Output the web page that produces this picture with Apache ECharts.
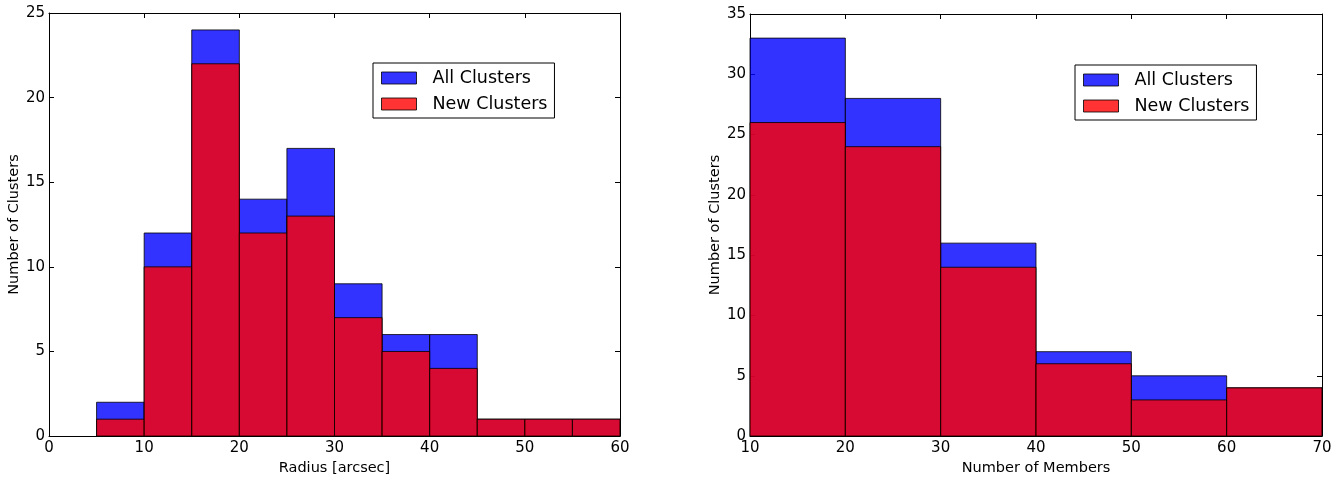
<!DOCTYPE html>
<html>
<head>
<meta charset="utf-8">
<script src="https://cdn.jsdelivr.net/npm/echarts@6/dist/echarts.min.js"></script>
<style>
html,body{margin:0;padding:0;background:#fff;}
#chart{width:1342px;height:481px;}
</style>
</head>
<body>
<div id="chart"></div>
<script>
// ---- data ----
const radiusEdges = [5, 10, 15, 20, 25, 30, 35, 40, 45, 50, 55, 60];
const radiusAll = [2, 12, 24, 14, 17, 9, 6, 6, 1, 1, 1];
const radiusNew = [1, 10, 22, 12, 13, 7, 5, 4, 1, 1, 1];

const memberEdges = [10, 20, 30, 40, 50, 60, 70];
const memberAll = [33, 28, 16, 7, 5, 4];
const memberNew = [26, 24, 14, 6, 3, 4];

const radiusTicks = [0, 10, 20, 30, 40, 50, 60];
const memberTicks = [10, 20, 30, 40, 50, 60, 70];

const seriesNames = ['All Clusters', 'New Clusters'];
const axisTitles = ['Radius [arcsec]', 'Number of Members', 'Number of Clusters'];

// ---- build ----
function toBins(edges, counts) {
  return counts.map((c, i) => [edges[i], edges[i + 1], c]);
}
const FONT = 'DejaVu Sans';
const BLUE = 'rgba(0,0,255,0.8)';
const RED = 'rgba(255,0,0,0.8)';
const EDGE = 'rgba(0,0,0,0.8)';

function renderBar(params, api) {
  const p0 = api.coord([api.value(0), 0]);
  const p1 = api.coord([api.value(1), api.value(2)]);
  return {
    type: 'rect',
    shape: { x: p0[0], y: p1[1], width: p1[0] - p0[0], height: p0[1] - p1[1] },
    style: api.style({ lineWidth: 1 })
  };
}

function histSeries(name, color, data, idx, z) {
  return {
    type: 'custom',
    name: name,
    xAxisIndex: idx * 2,
    yAxisIndex: idx * 2,
    renderItem: renderBar,
    encode: { x: [0, 1], y: 2 },
    itemStyle: { color: color, borderColor: EDGE, borderWidth: 1 },
    data: data,
    z: z,
    silent: true
  };
}

function xAxes(gi, min, max, ticks, title) {
  const interval = ticks[1] - ticks[0];
  return [
    {
      type: 'value', gridIndex: gi, min: min, max: max, interval: interval,
      position: 'bottom',
      name: title, nameLocation: 'middle', nameGap: 21,
      nameTextStyle: { fontFamily: FONT, fontSize: 14.5, color: '#000' },
      axisLine: { show: true, onZero: false, lineStyle: { color: '#000', width: 1 } },
      axisTick: { show: true, inside: true, length: 5, lineStyle: { color: '#000' } },
      axisLabel: { show: true, margin: 5, fontFamily: FONT, fontSize: 15, color: '#000' },
      splitLine: { show: false }
    },
    {
      type: 'value', gridIndex: gi, min: min, max: max, interval: interval,
      position: 'top',
      axisLine: { show: true, onZero: false, lineStyle: { color: '#000', width: 1 } },
      axisTick: { show: true, inside: true, length: 5, lineStyle: { color: '#000' } },
      axisLabel: { show: false },
      splitLine: { show: false }
    }
  ];
}
function yAxes(gi, max, title) {
  return [
    {
      type: 'value', gridIndex: gi, min: 0, max: max, interval: 5,
      position: 'left',
      name: title, nameLocation: 'middle', nameGap: 27,
      nameTextStyle: { fontFamily: FONT, fontSize: 14.5, color: '#000' },
      axisLine: { show: true, onZero: false, lineStyle: { color: '#000', width: 1 } },
      axisTick: { show: true, inside: true, length: 5, lineStyle: { color: '#000' } },
      axisLabel: { show: true, margin: 4, fontFamily: FONT, fontSize: 15, color: '#000' },
      splitLine: { show: false }
    },
    {
      type: 'value', gridIndex: gi, min: 0, max: max, interval: 5,
      position: 'right',
      axisLine: { show: true, onZero: false, lineStyle: { color: '#000', width: 1 } },
      axisTick: { show: true, inside: true, length: 5, lineStyle: { color: '#000' } },
      axisLabel: { show: false },
      splitLine: { show: false }
    }
  ];
}

function legend(left, top) {
  return {
    orient: 'vertical', left: left, top: top,
    data: seriesNames,
    selectedMode: false,
    icon: 'rect',
    itemWidth: 35, itemHeight: 12, itemGap: 6,
    padding: [5, 7, 4, 8],
    borderColor: '#000', borderWidth: 1,
    backgroundColor: '#fff',
    itemStyle: { borderColor: EDGE, borderWidth: 1 },
    textStyle: { fontFamily: FONT, fontSize: 17.5, lineHeight: 20, color: '#000', padding: [0, 0, 0, 11] }
  };
}

const chart = echarts.init(document.getElementById('chart'), null, { renderer: 'canvas' });
chart.setOption({
  animation: false,
  backgroundColor: '#fff',
  grid: [
    { left: 49, top: 13, width: 571, height: 428 },
    { left: 750, top: 14, width: 572, height: 428 }
  ],
  xAxis: [].concat(
    xAxes(0, 0, 60, radiusTicks, axisTitles[0]),
    xAxes(1, 10, 70, memberTicks, axisTitles[1])
  ),
  yAxis: [].concat(
    yAxes(0, 25, axisTitles[2]),
    yAxes(1, 35, axisTitles[2])
  ),
  legend: [legend(373, 63), legend(1075, 65)],
  series: [
    histSeries(seriesNames[0], BLUE, toBins(radiusEdges, radiusAll), 0, 2),
    histSeries(seriesNames[1], RED, toBins(radiusEdges, radiusNew), 0, 3),
    histSeries(seriesNames[0], BLUE, toBins(memberEdges, memberAll), 1, 2),
    histSeries(seriesNames[1], RED, toBins(memberEdges, memberNew), 1, 3)
  ]
});
</script>
</body>
</html>
